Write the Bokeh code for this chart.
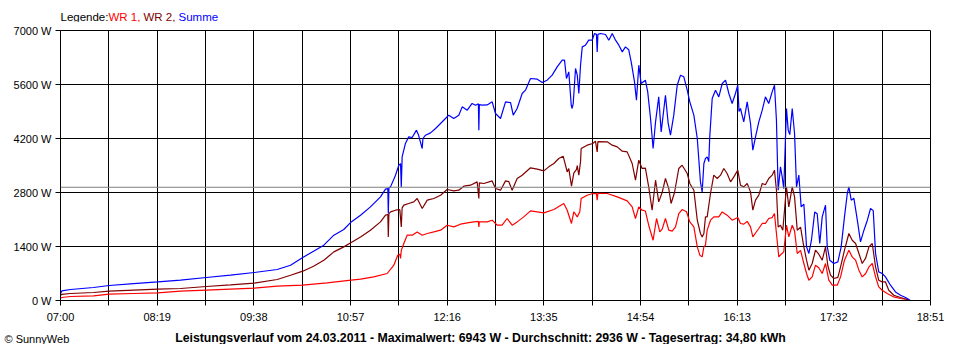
from bokeh.plotting import figure
from bokeh.layouts import column
from bokeh.models import FixedTicker, Span, Range1d, PrintfTickFormatter
from bokeh.core.properties import value
from bokeh.embed import file_html
from bokeh.resources import INLINE

# ---------------- data (minutes after 07:00, watts) ----------------
x_tick_labels = ["07:00", "08:19", "09:38", "10:57", "12:16", "13:35", "14:54", "16:13", "17:32", "18:51"]
y_ticks = [0, 1400, 2800, 4200, 5600, 7000]
average_w = 2936
series_names = ["WR 1", "WR 2", "Summe"]
footer_text = "Leistungsverlauf vom 24.03.2011 - Maximalwert: 6943 W - Durchschnitt: 2936 W - Tagesertrag: 34,80 kWh"

wr1_min = [0, 1.0, 8.2, 27.0, 39.8, 59.7, 79.5, 98.1, 119.1, 138.9, 158.3, 177.1, 198.0, 217.8, 237.6, 245.2,
           256.0, 267.0, 272.4, 275.6, 277.3, 277.9, 278.5, 280.6, 283.3, 287.4, 291.5, 295.6, 299.7, 305.1,
           310.6, 316.0, 321.4, 326.9, 332.4, 337.8, 341.5, 341.9, 342.3, 348.7, 352.8, 356.9, 360.9, 365.0,
           369.1, 373.2, 378.6, 384.1, 395.0, 403.2, 411.3, 414.1, 417.6, 419.5, 422.3, 424.4, 425.5, 430.4,
           435.0, 438.0, 438.6, 439.2, 446.8, 455.0, 463.1, 467.2, 469.9, 472.6, 475.3, 478.0, 480.7, 484.3,
           487.1, 489.8, 491.7, 494.4, 497.1, 499.9, 502.6, 505.3, 508.0, 511.6, 514.3, 517.6, 520.4, 522.5,
           524.4, 525.8, 527.1, 528.5, 531.2, 533.9, 538.0, 540.8, 544.8, 548.9, 553.5, 555.7, 558.4, 561.2,
           563.9, 565.8, 568.0, 570.7, 573.5, 576.1, 578.8, 581.6, 583.5, 585.1, 587.0, 589.0, 591.1, 593.3,
           595.2, 598.0, 599.9, 602.1, 604.8, 607.5, 609.7, 611.6, 614.3, 617.0, 619.7, 622.5, 625.2, 627.9,
           630.7, 634.8, 637.5, 640.7, 644.3, 647.0, 649.8, 652.5, 655.2, 658.0, 660.7, 663.4, 666.1, 668.7,
           671.5, 675.6, 681.0, 686.5, 691.9, 694.0]
wr1_w = [60, 78, 104, 119, 163, 181, 197, 241, 267, 293, 319, 371, 397, 456, 526, 552,
         612, 700, 915, 1175, 1200, 1089, 1300, 1478, 1693, 1693, 1779, 1693, 1737, 1779,
         1823, 1952, 1908, 1978, 2012, 2038, 2050, 1908, 2040, 2038, 2082, 1952, 1952, 2126,
         1952, 2038, 2168, 2323, 2272, 2359, 2515, 2341, 1997, 2300, 2168, 2300, 2645, 2730,
         2774, 2770, 2600, 2780, 2774, 2687, 2583, 2427, 2126, 2427, 2341, 2320, 1952, 1563,
         2126, 1779, 1850, 2126, 1823, 1800, 1908, 2255, 2359, 2300, 2038, 1908, 1390, 1175,
         1131, 1390, 1434, 1823, 2082, 2168, 2168, 2297, 2212, 2082, 2150, 1997, 1980, 2050,
         1908, 1649, 1750, 1867, 1997, 2000, 2126, 2150, 2255, 1737, 1131, 1200, 1260, 1952,
         1649, 1952, 1800, 1219, 1300, 959, 700, 526, 612, 915, 850, 700, 959, 526,
         397, 397, 612, 1045, 1304, 1131, 1045, 786, 612, 700, 871, 959, 612, 353,
         267, 181, 93, 52, 26, 0]

wr2_min = [0, 1.0, 8.2, 27.0, 39.8, 59.7, 79.5, 98.1, 119.1, 138.9, 158.3, 177.1, 188.0, 198.0, 206.8, 215.2,
           223.4, 231.5, 237.6, 245.2, 253.3, 261.5, 265.6, 267.5, 267.9, 268.4, 269.7, 273.8, 277.3, 278.5,
           279.2, 280.6, 284.6, 288.7, 291.5, 295.6, 299.7, 305.1, 310.6, 316.0, 321.4, 325.5, 329.6, 335.1,
           340.5, 341.9, 342.3, 346.0, 352.8, 355.5, 359.6, 363.7, 366.4, 369.1, 373.2, 377.3, 384.1, 389.6,
           395.0, 399.0, 403.2, 407.2, 410.8, 414.1, 415.4, 417.6, 419.5, 421.7, 422.3, 423.6, 425.0, 425.5,
           430.4, 435.0, 437.2, 438.6, 439.2, 446.8, 450.9, 455.0, 459.1, 463.1, 467.2, 469.9, 472.6, 475.3,
           478.0, 480.7, 483.5, 486.3, 488.9, 491.7, 494.4, 497.1, 499.0, 501.8, 505.3, 508.0, 512.2, 514.3,
           517.6, 520.4, 523.0, 524.4, 525.8, 527.1, 528.5, 531.2, 533.9, 536.7, 539.4, 542.1, 544.8, 547.6,
           550.3, 553.5, 555.7, 558.4, 561.2, 563.9, 565.8, 568.0, 570.7, 573.5, 576.1, 578.8, 581.6, 583.5,
           585.1, 586.5, 588.4, 590.3, 593.3, 595.2, 598.0, 599.9, 602.1, 604.8, 607.5, 609.7, 611.6, 614.3,
           617.0, 619.7, 622.5, 625.2, 627.1, 629.3, 632.0, 635.3, 637.5, 640.7, 644.3, 647.0, 649.8, 652.5,
           655.2, 658.0, 660.7, 663.4, 666.1, 668.7, 671.5, 674.2, 676.9, 681.0, 686.5, 691.9, 694.0]
wr2_w = [130, 160, 181, 207, 241, 267, 293, 311, 363, 404, 449, 545, 656, 760, 889, 1045,
         1260, 1390, 1504, 1649, 1823, 2038, 2212, 2230, 1649, 2250, 2297, 2341, 2360, 1908,
         2400, 2471, 2515, 2557, 2645, 2385, 2601, 2645, 2730, 2878, 2842, 2860, 2964, 2990,
         3075, 2645, 3050, 3034, 3101, 2904, 2860, 3101, 3080, 2860, 3163, 3249, 3440, 3405,
         3361, 3465, 3552, 3682, 3742, 3335, 3420, 2964, 3300, 3400, 3500, 3249, 3600, 3941,
         4027, 4071, 4131, 3853, 4120, 4113, 4027, 3983, 3871, 3853, 3552, 3119, 3638, 3423,
         3430, 2946, 2341, 3119, 2557, 2800, 3163, 2900, 2515, 2800, 3423, 3508, 3293, 3034,
         2860, 2082, 1737, 1649, 1737, 2168, 2168, 2774, 3249, 3163, 3249, 3423, 3293, 3075,
         3205, 3379, 2990, 2946, 3034, 2816, 2341, 2601, 2730, 3034, 3000, 3163, 3249, 3379,
         2860, 1908, 1950, 1823, 2946, 2427, 2946, 2687, 1823, 1900, 1390, 1045, 786, 959,
         1304, 1200, 1045, 1390, 900, 656, 570, 600, 871, 1304, 1737, 1563, 1478, 1219,
         959, 1100, 1390, 1478, 871, 526, 482, 482, 267, 137, 78, 26, 0]

sum_min = [0, 1.0, 8.2, 27.0, 39.8, 59.7, 79.5, 98.1, 119.1, 138.9, 158.3, 177.1, 188.0, 198.0, 206.8, 215.2,
           223.4, 231.5, 237.6, 245.2, 253.3, 261.5, 265.6, 267.5, 267.9, 268.4, 269.7, 273.8, 276.5, 277.9,
           278.5, 279.2, 281.9, 284.6, 287.4, 290.9, 292.5, 295.6, 296.2, 298.3, 302.4, 306.5, 310.6, 314.6,
           317.3, 321.4, 325.5, 328.3, 332.4, 336.4, 339.2, 341.5, 341.9, 342.3, 344.6, 348.7, 352.8, 355.5,
           359.6, 363.7, 367.8, 370.0, 373.2, 377.3, 380.0, 384.1, 389.6, 393.7, 397.7, 401.8, 405.9, 410.0,
           411.9, 413.5, 415.4, 417.4, 418.0, 419.0, 420.9, 422.3, 423.6, 425.0, 426.4, 429.0, 431.7, 434.5,
           436.4, 438.0, 438.6, 439.2, 441.3, 445.4, 448.1, 450.9, 453.6, 456.3, 459.1, 461.7, 464.4, 466.4,
           469.1, 470.7, 472.6, 474.5, 478.0, 479.9, 482.2, 484.3, 486.3, 488.9, 490.9, 494.4, 496.6, 498.5,
           501.2, 504.0, 506.7, 509.4, 512.2, 514.3, 517.6, 520.4, 523.0, 524.4, 525.8, 527.1, 528.5, 529.8,
           530.6, 532.6, 535.3, 538.0, 540.8, 543.5, 546.2, 548.9, 551.6, 553.5, 554.5, 555.7, 558.4, 561.2,
           563.9, 565.8, 568.0, 570.7, 573.5, 576.1, 578.8, 581.6, 583.5, 585.1, 586.5, 588.4, 589.8, 591.1,
           593.3, 594.7, 596.0, 598.0, 599.9, 601.5, 603.4, 605.3, 607.5, 609.7, 611.6, 613.7, 616.4, 618.4,
           620.5, 622.5, 625.2, 626.6, 628.7, 632.0, 635.3, 638.0, 640.7, 643.0, 644.3, 646.2, 648.4, 651.2,
           653.8, 656.6, 659.4, 662.0, 664.2, 666.1, 668.7, 671.5, 674.2, 678.3, 682.4, 686.5, 690.6, 693.3,
           694.5]
sum_w = [170, 250, 285, 337, 389, 440, 482, 526, 596, 656, 726, 804, 915, 1115, 1278, 1434,
         1693, 1841, 2038, 2212, 2427, 2687, 2886, 2900, 2256, 2920, 2946, 3249, 3508, 3550,
         2946, 3724, 4071, 4243, 4226, 4416, 4300, 3941, 4200, 4286, 4346, 4460, 4590, 4719,
         4805, 4719, 4805, 5020, 4934, 5108, 5064, 5100, 4416, 5080, 5064, 5070, 5150, 4849,
         4719, 5150, 5130, 4805, 4978, 5367, 5453, 5756, 5738, 5653, 5712, 5842, 6057, 6231,
         6231, 5756, 5928, 5064, 4978, 5100, 6015, 5850, 5367, 6101, 6576, 6620, 6749, 6749,
         6923, 6900, 6446, 6900, 6923, 6897, 6749, 6923, 6749, 6620, 6446, 6576, 6500, 6187,
         5668, 5193, 6101, 5626, 5712, 5409, 4719, 3941, 4631, 5279, 4372, 5322, 4600, 4286,
         4805, 5582, 5842, 5800, 5453, 5150, 4805, 4200, 3075, 2816, 3552, 3682, 3724, 3600,
         4243, 5237, 5453, 5279, 5626, 5712, 5367, 5108, 5367, 5582, 4900, 4978, 4631, 5150,
         4589, 3897, 4243, 4631, 4934, 5279, 5108, 5409, 5582, 4675, 2860, 3464, 3205, 2900,
         4978, 4416, 4300, 4978, 4330, 2946, 3250, 2427, 2500, 1390, 1219, 1563, 2297, 2250,
         1478, 2168, 2471, 1400, 1045, 959, 1000, 1390, 2168, 2774, 2946, 2601, 2650, 2082,
         1520, 1823, 2082, 2385, 2330, 1219, 742, 700, 612, 397, 223, 137, 78, 26,
         0]

# ---------------- layout ----------------
START = 420           # 07:00 in minutes
END = 1131            # 18:51
STEP = 79
W = 944
TOP_H = 22            # legend strip
MAIN_TOP_BORDER = 8
FRAME_L, FRAME_W, FRAME_H = 60, 870, 270
MAIN_BOTTOM_BORDER = 26
BOT_H = 18            # footer strip
COLORS = ["#ff0000", "#800000", "#0000ff"]
FONT = value("Liberation Sans")


def strip(height):
    f = figure(width=W, height=height, output_backend="svg", toolbar_location=None,
               x_axis_location=None, y_axis_location=None, frame_align=False,
               x_range=Range1d(0, W), y_range=Range1d(height, 0),
               min_border_left=0, min_border_right=0, min_border_top=0, min_border_bottom=0)
    f.grid.visible = False
    f.outline_line_color = None
    f.background_fill_color = "white"
    f.border_fill_color = "white"
    return f


# legend strip
top = strip(TOP_H)
leg_text = ["Legende:"] + [n + "," for n in series_names[:2]] + [series_names[2]]
leg_color = ["black"] + COLORS
leg_x = [60, 108, 143, 178]
top.text(x=leg_x, y=[16] * 4, text=leg_text, text_color=leg_color, text_font=FONT,
         text_font_size="11.5px", text_baseline="middle", text_align="left")

# main chart
p = figure(width=W, height=MAIN_TOP_BORDER + FRAME_H + MAIN_BOTTOM_BORDER, output_backend="svg",
           toolbar_location=None, x_range=Range1d(START, END), y_range=Range1d(0, 7000),
           frame_align=False,
           min_border_left=FRAME_L, min_border_right=W - FRAME_L - FRAME_W,
           min_border_top=MAIN_TOP_BORDER, min_border_bottom=MAIN_BOTTOM_BORDER)
p.background_fill_color = "white"
p.border_fill_color = "white"
p.outline_line_color = "black"
p.outline_line_width = 1

major = [START + STEP * i for i in range(len(x_tick_labels))]
minor = [START + STEP * i + STEP / 2 for i in range(len(x_tick_labels) - 1)]
p.xaxis.ticker = FixedTicker(ticks=major, minor_ticks=minor)
p.xaxis.major_label_overrides = {m: lab for m, lab in zip(major, x_tick_labels)}
p.yaxis.ticker = FixedTicker(ticks=y_ticks)
p.yaxis.formatter = PrintfTickFormatter(format="%d W")
p.xgrid.ticker = p.xaxis.ticker
p.ygrid.ticker = p.yaxis.ticker

for g in (p.xgrid, p.ygrid):
    g.grid_line_color = "black"
    g.grid_line_alpha = 1
    g.grid_line_width = 1
p.xgrid.minor_grid_line_color = "black"
p.xgrid.minor_grid_line_alpha = 1

for ax in (p.xaxis, p.yaxis):
    ax.axis_line_color = "black"
    ax.major_tick_line_color = "black"
    ax.major_tick_out = 5
    ax.major_tick_in = 0
    ax.major_label_text_font = "Liberation Sans"
    ax.major_label_text_font_size = "11px"
    ax.major_label_text_color = "black"
p.xaxis.minor_tick_line_color = "black"
p.xaxis.minor_tick_out = 5
p.xaxis.minor_tick_in = 0
p.yaxis.minor_tick_line_color = None
p.xaxis.major_label_standoff = 5
p.yaxis.major_label_standoff = 4

p.add_layout(Span(location=average_w, dimension="width", line_color="#808080", line_width=1))

p.line([START + m for m in wr1_min], wr1_w, line_color=COLORS[0], line_width=1.2)
p.line([START + m for m in wr2_min], wr2_w, line_color=COLORS[1], line_width=1.2)
p.line([START + m for m in sum_min], sum_w, line_color=COLORS[2], line_width=1.2)

# footer strip
bot = strip(BOT_H)
bot.text(x=[480], y=[11], text=[footer_text], text_color="black", text_font=FONT,
         text_font_size="12.3px", text_font_style="bold", text_baseline="middle", text_align="center")
bot.text(x=[4], y=[12], text=["\u00a9 SunnyWeb"], text_color="black", text_font=FONT,
         text_font_size="11px", text_baseline="middle", text_align="left")

layout = column(top, p, bot, spacing=0)
open("out.html", "w").write(file_html(layout, INLINE))
